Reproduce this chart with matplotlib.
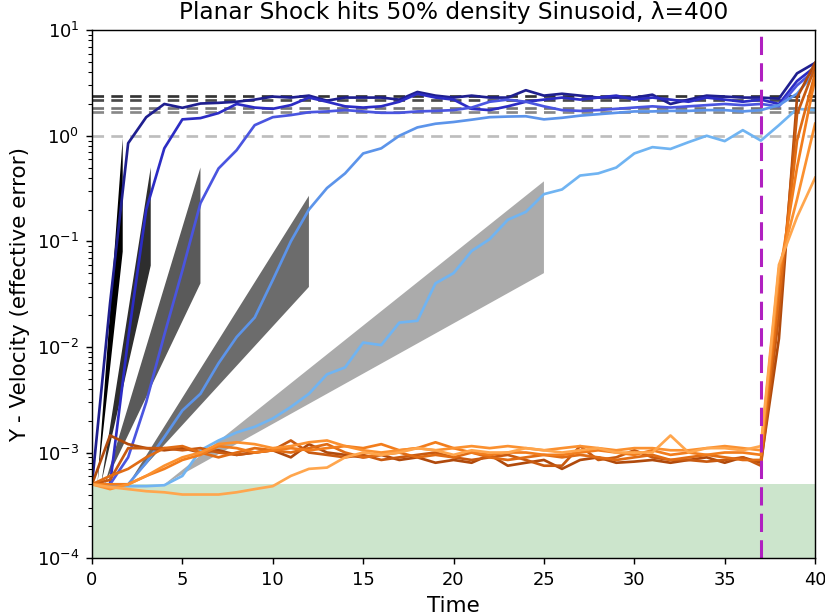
import matplotlib
matplotlib.use("Agg")
import matplotlib.pyplot as plt
import numpy as np

# ---- data -------------------------------------------------------------------
t = np.arange(0, 41)

blue1 = [5e-4, 0.026, 0.85, 1.5, 2.0, 1.84, 2.02, 2.05, 2.1, 2.2, 2.35, 2.3, 2.4,
         2.15, 2.3, 2.3, 2.3, 2.2, 2.6, 2.4, 2.3, 2.4, 2.3, 2.3, 2.7, 2.4, 2.5,
         2.4, 2.3, 2.3, 2.3, 2.45, 2.0, 2.2, 2.4, 2.35, 2.3, 2.3, 2.25, 3.9, 4.9]
blue2 = [5e-4, 5e-4, 0.012, 0.2, 0.76, 1.43, 1.47, 1.64, 2.0, 1.85, 1.8, 1.95, 2.3,
         2.1, 1.9, 1.85, 1.9, 2.1, 2.5, 2.3, 2.2, 1.8, 1.75, 1.9, 2.1, 2.2, 2.3,
         2.2, 2.3, 2.4, 2.2, 2.3, 2.2, 2.1, 2.3, 2.2, 2.1, 2.2, 2.0, 3.3, 4.5]
blue3 = [5e-4, 5e-4, 9e-4, 3e-3, 0.013, 0.053, 0.23, 0.49, 0.73, 1.26, 1.5, 1.57,
         1.67, 1.7, 1.75, 1.7, 1.65, 1.65, 1.7, 1.72, 1.75, 1.85, 2.1, 2.2, 2.1,
         1.9, 1.75, 1.72, 1.75, 1.8, 1.85, 1.9, 1.85, 1.9, 1.95, 2.0, 1.95, 2.0,
         1.9, 3.0, 4.2]
blue4 = [5e-4, 5e-4, 5e-4, 8e-4, 1.4e-3, 2.5e-3, 3.6e-3, 7e-3, 0.0124, 0.019, 0.043,
         0.1, 0.2, 0.32, 0.44, 0.68, 0.76, 1.0, 1.2, 1.3, 1.35, 1.42, 1.5, 1.52,
         1.53, 1.43, 1.48, 1.55, 1.6, 1.65, 1.7, 1.7, 1.72, 1.72, 1.75, 1.75, 1.7,
         1.75, 1.95, 2.5, 4.0]
blue5 = [5e-4, 4.8e-4, 4.8e-4, 4.8e-4, 4.9e-4, 6e-4, 1.05e-3, 1.3e-3, 1.55e-3,
         1.75e-3, 2.1e-3, 2.7e-3, 3.6e-3, 5.5e-3, 6.4e-3, 0.011, 0.0104, 0.017,
         0.0177, 0.040, 0.05, 0.081, 0.105, 0.16, 0.19, 0.28, 0.31, 0.42, 0.44,
         0.5, 0.68, 0.78, 0.75, 0.87, 1.0, 0.89, 1.13, 0.9, 1.26, 1.8, 1.75]

orange1 = [5e-4, 1.45e-3, 1.2e-3, 1.1e-3, 1.05e-3, 1.1e-3, 1.0e-3, 1.05e-3, 0.95e-3,
           1.0e-3, 1.05e-3, 0.9e-3, 1.2e-3, 1.0e-3, 0.95e-3, 0.9e-3, 0.95e-3,
           0.85e-3, 0.9e-3, 0.8e-3, 0.85e-3, 0.8e-3, 0.95e-3, 0.75e-3, 0.8e-3,
           0.85e-3, 0.7e-3, 0.85e-3, 0.9e-3, 0.8e-3, 0.82e-3, 0.85e-3, 0.8e-3,
           0.85e-3, 0.9e-3, 0.8e-3, 0.9e-3, 0.8e-3, 0.012, 2.3, 4.9]
orange2 = [5e-4, 5.5e-4, 1.1e-3, 1.1e-3, 1.1e-3, 1.05e-3, 1.1e-3, 1.0e-3, 0.95e-3,
           1.0e-3, 1.05e-3, 1.3e-3, 1.0e-3, 0.95e-3, 0.9e-3, 0.95e-3, 0.85e-3,
           0.9e-3, 0.95e-3, 1.0e-3, 0.9e-3, 0.85e-3, 0.9e-3, 0.95e-3, 0.85e-3,
           0.75e-3, 0.75e-3, 1.15e-3, 0.85e-3, 0.9e-3, 1.05e-3, 0.9e-3, 0.85e-3,
           0.85e-3, 0.82e-3, 0.85e-3, 0.9e-3, 0.75e-3, 0.02, 1.6, 4.5]
orange3 = [5e-4, 6e-4, 7e-4, 9e-4, 1.1e-3, 1.15e-3, 1.0e-3, 0.9e-3, 1.0e-3, 1.1e-3,
           1.05e-3, 1.0e-3, 1.1e-3, 1.2e-3, 1.0e-3, 0.9e-3, 0.95e-3, 1.0e-3, 0.9e-3,
           0.95e-3, 0.9e-3, 1.0e-3, 0.9e-3, 0.85e-3, 0.9e-3, 0.95e-3, 0.9e-3,
           0.95e-3, 0.9e-3, 0.85e-3, 0.9e-3, 0.95e-3, 0.85e-3, 0.9e-3, 0.95e-3,
           0.9e-3, 0.85e-3, 0.85e-3, 0.03, 0.9, 3.9]
orange4 = [5e-4, 5e-4, 5e-4, 6e-4, 7e-4, 8.5e-4, 9.5e-4, 1.15e-3, 1.1e-3, 1.0e-3,
           1.05e-3, 1.1e-3, 1.05e-3, 1.1e-3, 1.15e-3, 1.1e-3, 1.2e-3, 1.05e-3,
           1.1e-3, 1.25e-3, 1.1e-3, 1.0e-3, 0.95e-3, 1.0e-3, 1.0e-3, 0.95e-3,
           0.95e-3, 1.0e-3, 1.05e-3, 1.0e-3, 0.95e-3, 1.05e-3, 0.95e-3, 1.0e-3,
           0.95e-3, 1.0e-3, 1.0e-3, 0.95e-3, 0.045, 0.5, 3.5]
orange5 = [5e-4, 4.5e-4, 5e-4, 6e-4, 7.5e-4, 9e-4, 1.0e-3, 1.2e-3, 1.25e-3, 1.2e-3,
           1.1e-3, 1.15e-3, 1.25e-3, 1.3e-3, 1.15e-3, 1.05e-3, 1.0e-3, 1.05e-3,
           1.1e-3, 1.05e-3, 1.1e-3, 1.15e-3, 1.1e-3, 1.15e-3, 1.1e-3, 1.05e-3,
           1.1e-3, 1.15e-3, 1.1e-3, 1.05e-3, 1.1e-3, 1.1e-3, 1.05e-3, 1.05e-3,
           1.1e-3, 1.15e-3, 1.1e-3, 1.05e-3, 0.055, 0.25, 1.3]
orange6 = [5e-4, 4.7e-4, 4.5e-4, 4.3e-4, 4.2e-4, 4.0e-4, 4.0e-4, 4.0e-4, 4.2e-4,
           4.5e-4, 4.8e-4, 6e-4, 7e-4, 7.2e-4, 9e-4, 1.0e-3, 0.95e-3, 1.0e-3,
           1.1e-3, 1.05e-3, 0.95e-3, 1.05e-3, 1.0e-3, 1.0e-3, 1.1e-3, 1.05e-3,
           1.0e-3, 1.05e-3, 1.1e-3, 1.0e-3, 1.0e-3, 1.0e-3, 1.45e-3, 1.0e-3,
           1.1e-3, 1.1e-3, 1.05e-3, 1.15e-3, 0.06, 0.17, 0.4]

# growth-rate wedges: apex time, end time, top / bottom value at end
wedge_start = [0.3, 0.5, 0.7, 2.0, 4.0]
wedge_end = [1.7, 3.25, 6.0, 12.0, 25.0]
wedge_top = [0.95, 0.5, 0.5, 0.27, 0.37]
wedge_bot = [0.08, 0.059, 0.04, 0.037, 0.05]
sat_levels = [2.37, 2.2, 1.82, 1.67, 1.0]

y_floor = 5e-4
t_shock = 37

# ---- style ------------------------------------------------------------------
GRAYS = ["#000000", "#2e2e2e", "#5a5a5a", "#6c6c6c", "#ababab"]
SAT_COLORS = ["#333333", "#4a4a4a", "#767676", "#888888", "#bdbdbd"]
BLUES = ["#1f1f8f", "#2c2cc4", "#4a55e0", "#5c94ea", "#70b4f2"]
ORANGES = ["#b04a0c", "#c85a10", "#e06c14", "#f27d1c", "#fb9130", "#ffa64d"]

fig = plt.figure(figsize=(825 / 129, 616 / 129), dpi=129)
ax = fig.add_axes([0.1115, 0.094, 0.8765, 0.857])
ax.set_yscale("log")

ax.axhspan(1e-4, y_floor, color="green", alpha=0.2, lw=0)

for lev, c in zip(sat_levels, SAT_COLORS):
    ax.axhline(lev, color=c, lw=1.5, ls=(0, (4.3, 2.7)))

for xs, xe, top, bot, c in zip(wedge_start, wedge_end, wedge_top, wedge_bot, GRAYS):
    ax.fill([xs, xe, xe], [y_floor, top, bot], color=c, lw=0)

for ys, c in zip([blue1, blue2, blue3, blue4, blue5], BLUES):
    ax.plot(t, ys, color=c, lw=1.5)

for ys, c in zip([orange1, orange2, orange3, orange4, orange5, orange6], ORANGES):
    ax.plot(t, ys, color=c, lw=1.5)

ax.axvline(t_shock, color="#b020c0", lw=1.7, ls=(0, (6, 2.7)))

ax.set_xlim(0, 40)
ax.set_ylim(1e-4, 10)
ax.set_xticks(np.arange(0, 41, 5))
ax.set_xlabel("Time", fontsize=12)
ax.set_ylabel("Y - Velocity (effective error)", fontsize=12)
ax.set_title("Planar Shock hits 50% density Sinusoid, \u03bb=400", fontsize=13)

fig.savefig("out.png", dpi=129)
